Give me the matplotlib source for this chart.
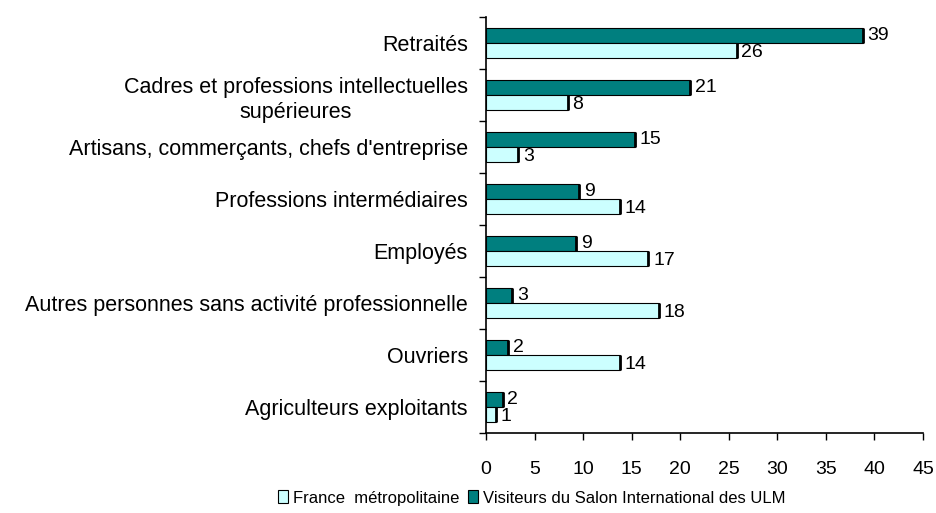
import numpy as np
import matplotlib.pyplot as plt
from matplotlib.patches import Patch

plt.rcParams['font.family'] = ['Liberation Sans', 'DejaVu Sans']

# categories, top to bottom as in the picture
categories = ['Retraités',
              'Cadres et professions intellectuelles\nsupérieures',
              "Artisans, commerçants, chefs d'entreprise",
              'Professions intermédiaires',
              'Employés',
              'Autres personnes sans activité professionnelle',
              'Ouvriers',
              'Agriculteurs exploitants']
visiteurs = [38.8, 21.0, 15.3, 9.6, 9.3, 2.7, 2.3, 1.7]
france = [25.8, 8.4, 3.3, 13.8, 16.7, 17.8, 13.8, 1.0]
visiteurs_lbl = ['39', '21', '15', '9', '9', '3', '2', '2']
france_lbl = ['26', '8', '3', '14', '17', '18', '14', '1']

teal = '#007F7F'
cyan = '#CCFFFF'

fig = plt.figure(figsize=(9.37, 5.13), dpi=100)
ax = fig.add_axes([486/937, 1 - 433/513, 437/937, 416/513])

n = len(categories)
y = np.arange(n)[::-1].astype(float)
h = 0.28

ax.barh(y + h/2, visiteurs, height=h, color=teal, edgecolor='black', linewidth=0.8)
ax.barh(y - h/2, france, height=h, color=cyan, edgecolor='black', linewidth=0.8)
# thick end caps like the original
for yy, v in zip(y, visiteurs):
    ax.plot([v, v], [yy, yy + h], color='black', lw=2, solid_capstyle='butt')
for yy, v in zip(y, france):
    ax.plot([v, v], [yy - h, yy], color='black', lw=2, solid_capstyle='butt')

for yy, v, t in zip(y, visiteurs, visiteurs_lbl):
    ax.text(v + 0.5, yy + h/2, t, va='center', ha='left', fontsize=14)
for yy, v, t in zip(y, france, france_lbl):
    ax.text(v + 0.5, yy - h/2 - 0.04, t, va='center', ha='left', fontsize=14)

ax.set_xlim(0, 45)
ax.set_ylim(-0.5, n - 0.5)
ax.set_xticks(np.arange(0, 46, 5))
ax.set_yticks(y)
ax.set_yticklabels(categories, fontsize=15.5, multialignment='center', linespacing=1.3)
ax.set_yticks(np.arange(-0.5, n, 1), minor=True)
ax.tick_params(axis='y', which='major', length=0, pad=13)
ax.tick_params(axis='y', which='minor', length=5, width=1, direction='out')
ax.tick_params(axis='x', length=5, width=1, direction='out', labelsize=14, pad=15)
for s in ['top', 'right']:
    ax.spines[s].set_visible(False)
for s in ['left', 'bottom']:
    ax.spines[s].set_linewidth(1.2)

handles = [Patch(facecolor=cyan, edgecolor='black', linewidth=0.8),
           Patch(facecolor=teal, edgecolor='black', linewidth=0.8)]
fig.legend(handles, ['France  métropolitaine', 'Visiteurs du Salon International des ULM'],
           loc='center', bbox_to_anchor=(532/937, 1 - 498/513), ncol=2, frameon=False,
           fontsize=12, handlelength=0.6, handleheight=0.8, handletextpad=0.3,
           columnspacing=0.5)

fig.savefig('out.png', dpi=100)
